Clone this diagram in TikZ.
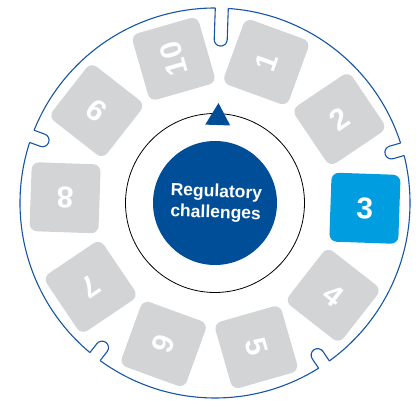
\documentclass[tikz,border=0pt]{standalone}
\usepackage{fontspec}
\setmainfont{Liberation Sans}
\definecolor{darkblue}{RGB}{0,78,152}
\definecolor{ringblue}{RGB}{20,85,165}
\definecolor{lightblue}{RGB}{0,158,224}
\definecolor{tilegray}{RGB}{211,212,214}
\begin{document}
\begin{tikzpicture}[x=1pt,y=1pt,
  tile/.style={rounded corners=7.5pt, minimum size=69pt, inner sep=0pt, fill=tilegray, text=white, font=\fontsize{30}{30}\selectfont\bfseries},
  ring/.style={draw=ringblue, line width=1.1pt},
  hubtext/.style={text=white, align=center, font=\fontsize{17.5}{21}\selectfont\bfseries},
]
\useasboundingbox (0,0) rectangle (416,400);
\coordinate (C) at (215,197);
\def\R{195}\def\w{6.5}\def\dl{1.91}\def\Rs{194.89}
\begin{scope}[shift={(C)}]
  % outer ring arcs between notches
  \foreach \a/\b in {16/88, 88/160, 160/232, 232/304, 304/376}
    \draw[ring] (\a+\dl:\R) arc[start angle=\a+\dl, end angle=\b-\dl, radius=\R];
  % notches
  \foreach \p/\d in {88/38, 16/18, -56/18, -128/18, 160/18}
    \draw[ring, rotate=\p-90] (\w,\Rs) -- (\w,\R-\d+\w) arc[start angle=0, end angle=-180, radius=\w] -- (-\w,\Rs);
  % tiles
  \foreach \n in {1,2,4,5,6,7,8,9,10} {
    \pgfmathsetmacro\t{-2+36*(3-\n)}
    \node[tile, rotate=\t] (s\n) at (\t:150) {\n};
  }
  \node[tile, fill=lightblue, rotate=-2] (s3) at (-2:150) {3};
  % inner ring and hub
  \node[draw=black, line width=0.8pt, circle, minimum size=179pt, inner sep=0pt] (inner) at (0,0) {};
  \fill[darkblue, rotate=-2] (0,100) -- (-12.5,78) -- (12.5,78) -- cycle;
  \node[circle, fill=darkblue, minimum size=124pt, inner sep=0pt] (hub) at (0,0) {};
  \node[hubtext, rotate=-2] (label) at (1,0) {Regulatory\\challenges};
\end{scope}
\end{tikzpicture}
\end{document}
